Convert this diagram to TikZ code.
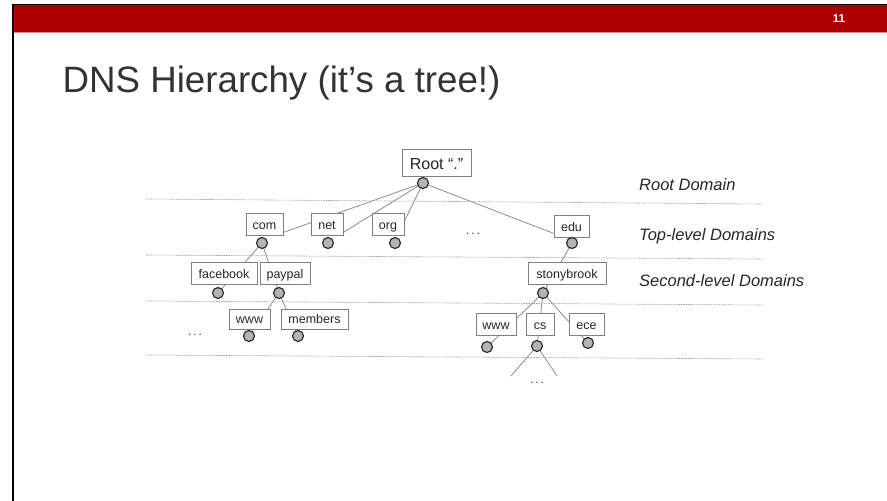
\documentclass[tikz,border=0pt]{standalone}
\usepackage{fontspec}
\setmainfont{Liberation Sans}
\usetikzlibrary{backgrounds}
\definecolor{barred}{HTML}{AA0000}
\definecolor{barpink}{HTML}{E08A8A}
\definecolor{titlegray}{HTML}{333333}
\definecolor{boxgray}{HTML}{7F7F7F}
\definecolor{conngray}{HTML}{8C8C8C}
\definecolor{dotgray}{HTML}{9A9A9A}
\definecolor{circfill}{HTML}{B4B4B4}
\definecolor{circline}{HTML}{2E2E2E}
\tikzset{
  dbox/.style={draw=boxgray, line width=0.8pt, fill=white, inner sep=0pt,
    minimum height=22, text height=10, text depth=0,
    font=\fontsize{12.5}{14}\selectfont, text=black!85},
  dcirc/.style={circle, draw=circline, line width=1.2pt, fill=circfill,
    inner sep=0pt, minimum size=11},
  conn/.style={draw=conngray, line width=0.8pt},
  level/.style={draw=dotgray, line width=0.6pt, dash pattern=on 1.5pt off 1pt},
  lbl/.style={anchor=west, inner sep=0pt, font=\fontsize{16.5}{18}\selectfont\itshape, text=black!85},
  dots/.style={inner sep=0pt, font=\fontsize{12}{14}\selectfont, text=black!80}
}
\begin{document}
\begin{tikzpicture}[x=1pt,y=-1pt]
\useasboundingbox (0,0) rectangle (887,501);
% header
\fill[barred] (13,4.5) rectangle (887,32);
\fill[barpink] (13,32) rectangle (887,33.3);
\fill[black] (12,4) rectangle (887,5.3);
\fill[black] (12,4) rectangle (14.2,501);
\node[anchor=center, inner sep=0pt, text=white, font=\fontsize{11.5}{12}\selectfont\bfseries] (num) at (839,18.5) {11};
% title
\node[anchor=base west, inner sep=0pt, text=titlegray, font=\fontsize{36.7}{40}\selectfont] (title) at (62.5,92) {DNS Hierarchy (it’s a tree!)};
% level separators
\coordinate (l1a) at (146,199); \coordinate (l1b) at (763,204);
\coordinate (l2a) at (146,255); \coordinate (l2b) at (763,259);
\coordinate (l3a) at (146,301); \coordinate (l3b) at (763,305);
\coordinate (l4a) at (146,355); \coordinate (l4b) at (763,359);
\draw[level] (l1a) -- (l1b);
\draw[level] (l2a) -- (l2b);
\draw[level] (l3a) -- (l3b);
\draw[level] (l4a) -- (l4b);
% labels
\node[lbl] (lroot) at (639,185) {Root Domain};
\node[lbl] (ltop) at (639,236) {Top-level Domains};
\node[lbl] (lsec) at (639,281) {Second-level Domains};
% boxes
\node[dbox, minimum width=69, minimum height=27, text height=13, font=\fontsize{16}{18}\selectfont] (root) at (436.5,162.5) {Root “.”};
\node[dbox, minimum width=37] (com) at (264.5,224) {com};
\node[dbox, minimum width=32] (net) at (327,224) {net};
\node[dbox, minimum width=32] (org) at (388,224) {org};
\node[dbox, minimum width=35] (edu) at (571.5,226) {edu};
\node[dbox, minimum width=66] (facebook) at (224,273) {facebook};
\node[dbox, minimum width=50] (paypal) at (285,273) {paypal};
\node[dbox, minimum width=78] (stony) at (567,273) {stonybrook};
\node[dbox, minimum width=41, minimum height=20, text height=9] (www1) at (249.5,319) {www};
\node[dbox, minimum width=67, minimum height=20, text height=9] (members) at (314.5,319) {members};
\node[dbox, minimum width=40] (www2) at (496,324) {www};
\node[dbox, minimum width=28] (cs) at (540,324) {cs};
\node[dbox, minimum width=35] (ece) at (586.5,324) {ece};
% circles
\node[dcirc] (rc) at (423,183) {};
\node[dcirc] (comc) at (262,243) {};
\node[dcirc] (netc) at (328,243) {};
\node[dcirc] (orgc) at (395,243) {};
\node[dcirc] (educ) at (572,243) {};
\node[dcirc] (fbc) at (218,293) {};
\node[dcirc] (ppc) at (279,293) {};
\node[dcirc] (stc) at (543,293) {};
\node[dcirc] (w1c) at (249,336) {};
\node[dcirc] (mbc) at (298,336) {};
\node[dcirc] (w2c) at (487,347) {};
\node[dcirc] (csc) at (537,346) {};
\node[dcirc] (ecec) at (588,343) {};
% dots
\node[dots] (d1) at (473,234) {.\,.\,.};
\node[dots] (d2) at (195,335) {.\,.\,.};
\node[dots] (d3) at (537,383) {.\,.\,.};
\coordinate (csl) at (511,376);
\coordinate (csr) at (557,376);
% connectors (behind)
\begin{scope}[on background layer]
\draw[conn] (rc.center) -- ([yshift=3]com.south east);
\draw[conn] (rc.center) -- ([yshift=3]net.south east);
\draw[conn] (rc.center) -- ([yshift=3]org.east);
\draw[conn] (rc.center) -- ([yshift=4]edu.south west);
\draw[conn] (comc.center) -- (fbc.center);
\draw[conn] (comc.center) -- (ppc.center);
\draw[conn] (ppc.center) -- (w1c.center);
\draw[conn] (ppc.center) -- (mbc.center);
\draw[conn] (educ.center) -- (stc.center);
\draw[conn] (stc.center) -- (w2c.center);
\draw[conn] (stc.center) -- (csc.center);
\draw[conn] (stc.center) -- (ecec.center);
\draw[conn] (csc.center) -- (csl);
\draw[conn] (csc.center) -- (csr);
\end{scope}
\end{tikzpicture}
\end{document}
